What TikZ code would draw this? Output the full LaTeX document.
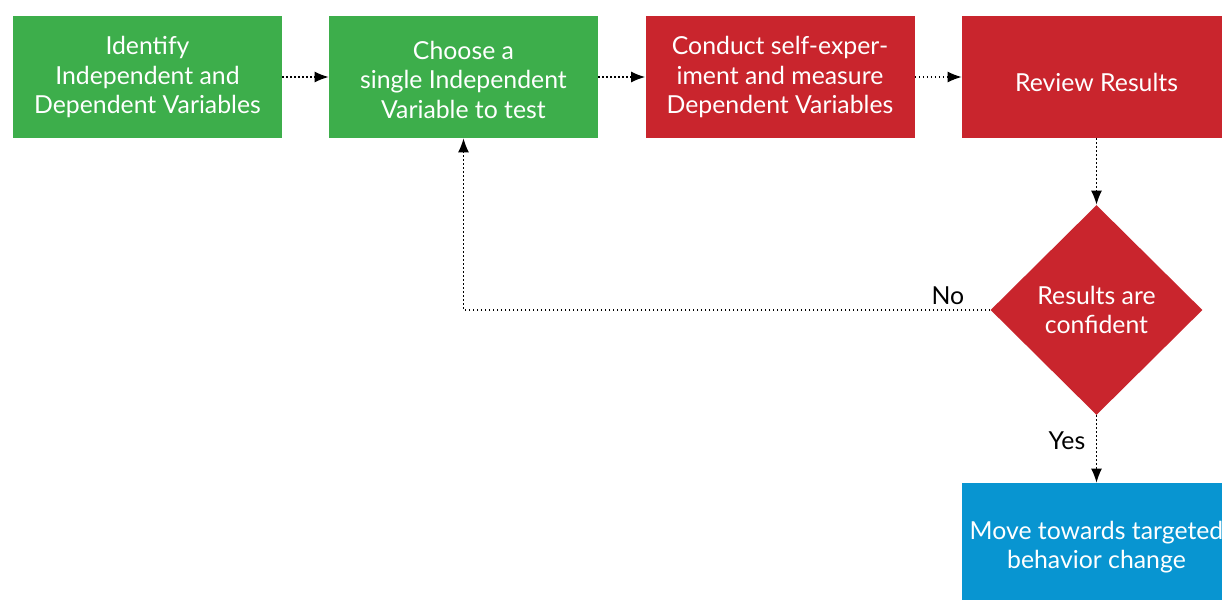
\documentclass[tikz,border=0pt]{standalone}
\usepackage{fontspec}
\setmainfont{Lato}
\usetikzlibrary{arrows.meta,positioning,shapes.geometric}
\definecolor{stepgreen}{HTML}{3DAE4B}
\definecolor{stepred}{HTML}{C9252D}
\definecolor{stepblue}{HTML}{0895D1}
% lower a line of text without changing its size
\newcommand{\lowerby}[2]{\raisebox{-#1}[\height][\depth]{#2}}

\begin{document}
\begin{tikzpicture}[x=0.5pt, y=-0.5pt,
    box/.style={rectangle, inner sep=0pt, minimum width=134.5pt, minimum height=61pt,
        text=white, align=center, font=\fontsize{12.4}{14.7}\selectfont},
    flow/.style={line width=0.6pt, dash pattern=on 0.6pt off 1.4pt,
        -{Latex[length=7pt,width=5.5pt]}},
    lbl/.style={font=\fontsize{12.4}{14.7}\selectfont}]
    % page area
    \fill[white] (0,0) rectangle (1222,600);
    \clip (0,0) rectangle (1222,600);

    % top row of steps
    \node[box, fill=stepgreen] (identify) at (147.5,77) {Identify\\Independent and\\Dependent Variables};
    \node[box, fill=stepgreen] (choose) at (463.5,77) {\lowerby{1.3pt}{Choose a}\\\lowerby{1.3pt}{single Independent}\\\lowerby{1.3pt}{Variable to test}};
    \node[box, fill=stepred] (conduct) at (780,77) {Conduct self-exper-\\iment and measure\\Dependent Variables};
    \node[box, fill=stepred] (review) at (1096.5,77) {\lowerby{2.5pt}{Review Results}};

    % decision
    \node[diamond, fill=stepred, text=white, align=center, inner sep=0pt,
        minimum width=106pt, minimum height=105pt,
        font=\fontsize{12.4}{14.7}\selectfont] (confident) at (1096.5,310) {Results are\\confident};

    % outcome
    \node[box, fill=stepblue] (move) at (1096.5,544) {\lowerby{1.5pt}{Move towards targeted}\\\lowerby{1.5pt}{behavior change}};

    % connectors
    \draw[flow] (identify) -- (choose);
    \draw[flow] (choose) -- (conduct);
    \draw[flow] (conduct) -- (review);
    \draw[flow] (review) -- (confident);
    \draw[flow] (confident) -- node[lbl, left, pos=0.38, xshift=-2pt] {Yes} (move);
    \draw[flow] (confident.west) -- node[lbl, pos=0.08, above, yshift=-1pt] {No} (choose.south |- confident.west) -- (choose.south);
\end{tikzpicture}
\end{document}
